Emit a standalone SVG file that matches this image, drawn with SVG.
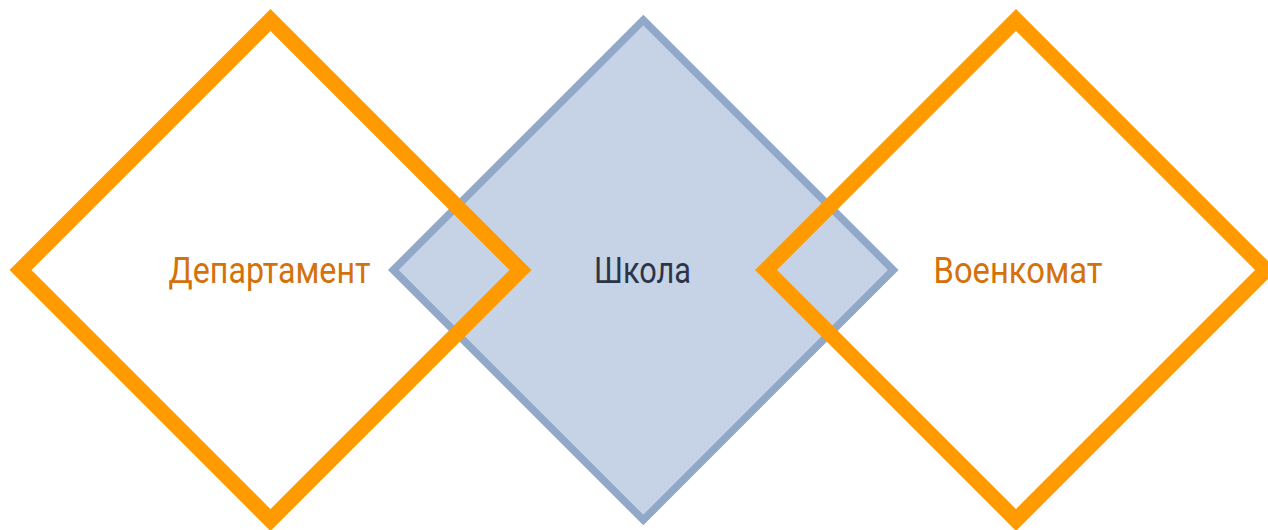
<svg xmlns="http://www.w3.org/2000/svg" width="1268" height="530" viewBox="0 0 1268 530">
  <style>
    .outline { fill: none; stroke: #ff9a00; stroke-width: 15.5; stroke-linejoin: miter; stroke-miterlimit: 10; }
    .core { fill: #c6d3e6; stroke: #91a8c8; stroke-width: 7.5; stroke-linejoin: miter; stroke-miterlimit: 10; }
    .label { font-family: Roboto, "Liberation Sans", sans-serif; font-size: 36px; text-anchor: middle; }
    .orange { fill: #d4710b; }
    .dark { fill: #2b3547; }
  </style>
  <rect width="1268" height="530" fill="#ffffff"/>
  <g id="school">
    <polygon class="core" points="643.3,20 893.3,270 643.3,520 393.3,270"/>
    <text class="label dark" x="642.5" y="282.5" textLength="97" lengthAdjust="spacingAndGlyphs">Школа</text>
  </g>
  <g id="department">
    <polygon class="outline" points="270.5,20 520.5,270 270.5,520 20.5,270"/>
    <text class="label orange" x="269.5" y="282.5" textLength="202" lengthAdjust="spacingAndGlyphs">Департамент</text>
  </g>
  <g id="military-office">
    <polygon class="outline" points="1016,20 1266,270 1016,520 766,270"/>
    <text class="label orange" x="1018" y="282.5" textLength="169" lengthAdjust="spacingAndGlyphs">Военкомат</text>
  </g>
  <g id="connectors"></g>
</svg>
